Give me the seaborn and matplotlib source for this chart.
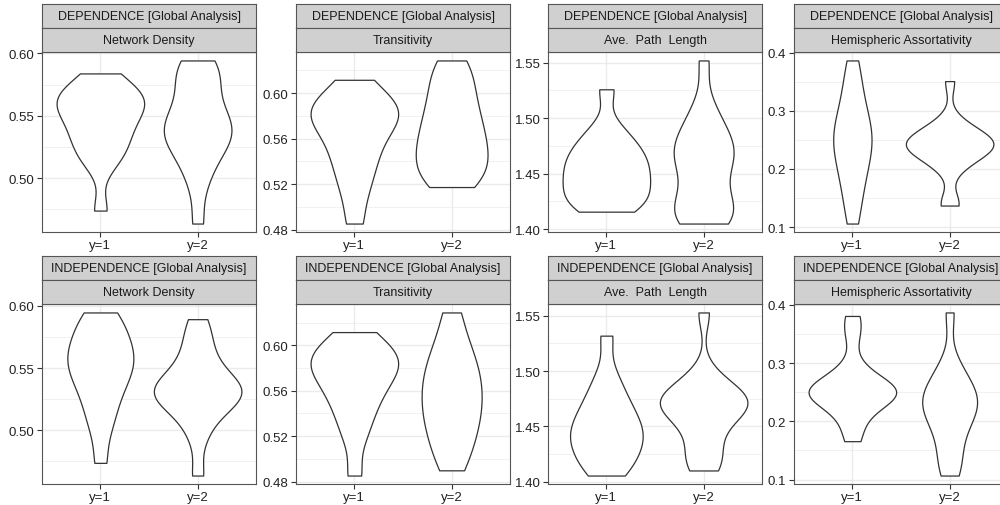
import numpy as np
import pandas as pd
import matplotlib
matplotlib.use("Agg")
import matplotlib.pyplot as plt
import seaborn as sb

# valores leidos a ojo del grafico (DEPENDENCE / INDEPENDENCE, y=1 / y=2)
dep_density_1 = [0.474, 0.510, 0.518, 0.525, 0.531, 0.537, 0.543, 0.549, 0.553, 0.557, 0.561, 0.564, 0.567, 0.571, 0.576, 0.584]
dep_density_2 = [0.4636, 0.494, 0.508, 0.518, 0.525, 0.530, 0.534, 0.538, 0.542, 0.546, 0.551, 0.558, 0.568, 0.577, 0.585, 0.590, 0.5944]
dep_trans_1 = [0.4853, 0.510, 0.525, 0.537, 0.547, 0.556, 0.565, 0.572, 0.577, 0.581, 0.585, 0.589, 0.594, 0.600, 0.6117]
dep_trans_2 = [0.5174, 0.524, 0.531, 0.538, 0.545, 0.552, 0.559, 0.567, 0.575, 0.584, 0.594, 0.605, 0.617, 0.6287]
dep_apl_1 = [1.4157, 1.419, 1.424, 1.429, 1.434, 1.439, 1.444, 1.449, 1.454, 1.459, 1.464, 1.469, 1.475, 1.482, 1.492, 1.526]
dep_apl_2 = [1.405, 1.407, 1.410, 1.414, 1.419, 1.426, 1.433, 1.445, 1.455, 1.461, 1.466, 1.471, 1.476, 1.482, 1.489, 1.499, 1.512, 1.552]
dep_ha_1 = [0.106, 0.140, 0.165, 0.185, 0.203, 0.218, 0.231, 0.243, 0.254, 0.265, 0.277, 0.291, 0.308, 0.330, 0.355, 0.387]
dep_ha_2 = [0.137, 0.142, 0.200, 0.213, 0.222, 0.229, 0.234, 0.238, 0.241, 0.244, 0.247, 0.251, 0.256, 0.262, 0.270, 0.283, 0.3514]

ind_density_1 = [0.4738, 0.500, 0.512, 0.523, 0.532, 0.539, 0.545, 0.550, 0.555, 0.559, 0.564, 0.569, 0.575, 0.582, 0.590, 0.5947]
ind_density_2 = [0.4636, 0.494, 0.508, 0.516, 0.521, 0.525, 0.528, 0.530, 0.532, 0.535, 0.538, 0.542, 0.548, 0.556, 0.566, 0.577, 0.5893]
ind_trans_1 = [0.4853, 0.518, 0.533, 0.545, 0.554, 0.562, 0.569, 0.575, 0.580, 0.584, 0.588, 0.592, 0.597, 0.603, 0.6117]
ind_trans_2 = [0.4899, 0.505, 0.516, 0.526, 0.535, 0.543, 0.551, 0.559, 0.567, 0.575, 0.584, 0.594, 0.607, 0.629]
ind_apl_1 = [1.4054, 1.412, 1.419, 1.426, 1.432, 1.437, 1.442, 1.447, 1.452, 1.458, 1.465, 1.473, 1.483, 1.497, 1.532]
ind_apl_2 = [1.410, 1.416, 1.425, 1.437, 1.449, 1.458, 1.463, 1.467, 1.470, 1.472, 1.474, 1.477, 1.481, 1.487, 1.497, 1.553]
ind_ha_1 = [0.166, 0.195, 0.218, 0.232, 0.240, 0.245, 0.248, 0.251, 0.254, 0.258, 0.264, 0.274, 0.295, 0.350, 0.381]
ind_ha_2 = [0.107, 0.125, 0.150, 0.175, 0.195, 0.208, 0.218, 0.227, 0.235, 0.243, 0.252, 0.263, 0.278, 0.300, 0.387]

groups = ["y=1", "y=2"]
rows = ["DEPENDENCE [Global Analysis]", "INDEPENDENCE [Global Analysis]"]
measures = ["Network Density", "Transitivity", "Ave.  Path  Length", "Hemispheric Assortativity"]
yticks = [[0.50, 0.55, 0.60], [0.48, 0.52, 0.56, 0.60], [1.40, 1.45, 1.50, 1.55], [0.1, 0.2, 0.3, 0.4]]
ylabels = [["0.50", "0.55", "0.60"], ["0.48", "0.52", "0.56", "0.60"],
           ["1.40", "1.45", "1.50", "1.55"], ["0.1", "0.2", "0.3", "0.4"]]

datos = [
    [(dep_density_1, dep_density_2), (dep_trans_1, dep_trans_2), (dep_apl_1, dep_apl_2), (dep_ha_1, dep_ha_2)],
    [(ind_density_1, ind_density_2), (ind_trans_1, ind_trans_2), (ind_apl_1, ind_apl_2), (ind_ha_1, ind_ha_2)],
]

sb.set_style("white")
plt.rcParams["font.family"] = ["Liberation Sans", "DejaVu Sans"]

W, H = 1000, 506
fig = plt.figure(figsize=(W / 100, H / 100), dpi=100)

lefts = [42, 296, 548, 794]
pw = 214
strip_tops = [5, 257]
sh = 24.15
ph = 179.4
borde = "#555555"

for r in range(2):
    for c in range(4):
        y1, y2 = datos[r][c]
        df = pd.DataFrame({"grupo": ["y=1"] * len(y1) + ["y=2"] * len(y2), "valor": y1 + y2})

        top = strip_tops[r]
        ptop = top + 2 * sh
        ax = fig.add_axes([lefts[c] / W, 1 - (ptop + ph) / H, pw / W, ph / H])
        sb.violinplot(data=df, x="grupo", y="valor", order=groups, ax=ax, cut=0, inner=None,
                      density_norm="area", width=0.9, color="white", linecolor="#333333",
                      linewidth=0.9, bw_method="scott", bw_adjust=0.75, saturation=1)

        # rango con 5% de margen, como ggplot
        lo, hi = min(y1 + y2), max(y1 + y2)
        pad = (hi - lo) * 0.05
        ax.set_xlim(-0.6, 1.6)
        ax.set_yticks(yticks[c])
        ax.set_yticklabels(ylabels[c])
        mt = np.array(yticks[c])
        step = mt[1] - mt[0]
        ax.set_yticks(list((mt[:-1] + mt[1:]) / 2) + [mt[0] - step / 2, mt[-1] + step / 2], minor=True)
        ax.set_ylim(lo - pad, hi + pad)
        ax.set_xlabel("")
        ax.set_ylabel("")
        ax.grid(True, which="major", color="#EBEBEB", linewidth=1.0)
        ax.grid(True, which="minor", axis="y", color="#EBEBEB", linewidth=0.5)
        ax.set_axisbelow(True)
        ax.tick_params(axis="both", which="major", length=3.5, width=0.8, color="#333333",
                       labelsize=9.5, labelcolor="#222222", pad=2, left=True, bottom=True)
        ax.tick_params(axis="y", which="minor", length=0)
        for s in ax.spines.values():
            s.set_color(borde)
            s.set_linewidth(0.8)

        # tiras de la faceta (dos niveles)
        for k, txt in enumerate([rows[r], measures[c]]):
            sax = fig.add_axes([lefts[c] / W, 1 - (top + (k + 1) * sh) / H, pw / W, sh / H])
            sax.set_facecolor("#D0D0D0")
            sax.set_xticks([])
            sax.set_yticks([])
            for s in sax.spines.values():
                s.set_color(borde)
                s.set_linewidth(0.8)
            sax.text(0.5, 0.5, txt, ha="center", va="center", fontsize=9, color="#1A1A1A",
                     transform=sax.transAxes)

fig.savefig("out.png", dpi=100)
